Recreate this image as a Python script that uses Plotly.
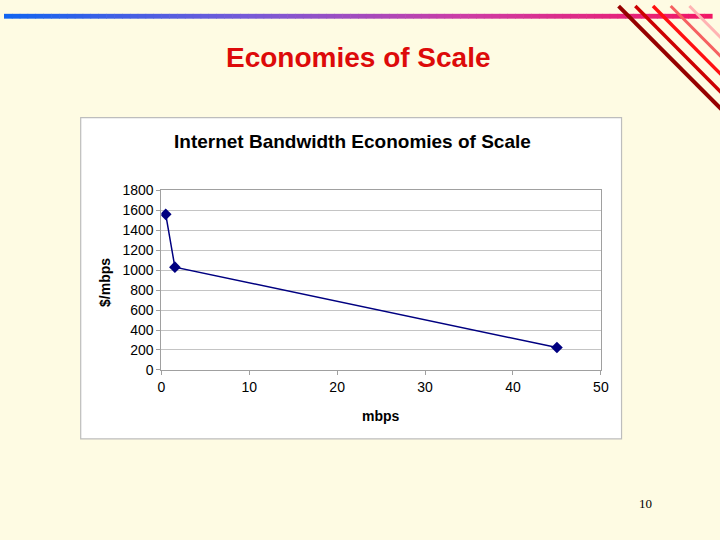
import plotly.graph_objects as go

# Data: bandwidth (mbps) vs price per mbps
mbps = [0.5, 1.544, 45]
cost_per_mbps = [1560, 1030, 225]

x_ticks = [0, 10, 20, 30, 40, 50]
y_ticks = [0, 200, 400, 600, 800, 1000, 1200, 1400, 1600, 1800]

W, H = 720, 540
cream = "#FEFBE3"


def px(x):
    return x / W


def py(y):
    return 1 - y / H


fig = go.Figure()

fig.add_trace(go.Scatter(
    x=mbps, y=cost_per_mbps, mode="lines+markers",
    line=dict(color="#000080", width=1.5),
    marker=dict(symbol="diamond", size=9, color="#000080"),
    showlegend=False, hoverinfo="skip",
))

shapes = []

# white chart box
shapes.append(dict(type="rect", xref="paper", yref="paper", layer="below",
                   x0=px(78), x1=px(628), y0=py(444), y1=py(113),
                   fillcolor="white", line=dict(color="#BDBDBD", width=1.2)))

# gradient bar across the top of the slide
stops = [(0.0, (16, 100, 240)), (0.35, (120, 90, 215)),
         (0.65, (205, 60, 165)), (1.0, (242, 22, 100))]


def grad(t):
    for (t0, c0), (t1, c1) in zip(stops[:-1], stops[1:]):
        if t <= t1:
            f = (t - t0) / (t1 - t0)
            return "rgb(%d,%d,%d)" % tuple(round(a + (b - a) * f) for a, b in zip(c0, c1))
    return "rgb(%d,%d,%d)" % stops[-1][1]


n = 90
for i in range(n):
    x0 = W * i / n
    x1 = W * (i + 1) / n + 0.6
    shapes.append(dict(type="rect", xref="paper", yref="paper",
                       x0=px(x0), x1=px(x1), y0=py(11), y1=py(6),
                       fillcolor=grad((i + 0.5) / n), line=dict(width=0)))

# diagonal stripes in the top right corner
stripes = [(697, "#FFB3B3", 3), (678, "#F56060", 3), (660, "#FF1010", 3.5),
           (642, "#CC0000", 3.5), (625, "#960000", 4)]
for x_start, col, w in stripes:
    shapes.append(dict(type="line", xref="paper", yref="paper",
                       x0=px(x_start), y0=py(-2), x1=px(x_start + 110), y1=py(110),
                       line=dict(color=col, width=w)))


def label(text, x, y, size, **kw):
    return dict(text=text, xref="paper", yref="paper", x=px(x), y=py(y),
                xanchor="center", yanchor="middle", showarrow=False,
                font=dict(size=size, **kw.pop("font", {})), **kw)


fig.update_layout(
    width=W, height=H,
    margin=dict(l=0, r=0, t=0, b=0),
    paper_bgcolor=cream,
    plot_bgcolor="white",
    font=dict(family="Liberation Sans, Arial", color="black", size=14),
    shapes=shapes,
    xaxis=dict(domain=[px(160), px(607)], range=[0, 50], tickvals=x_ticks,
               showgrid=False, zeroline=False, showline=True, linecolor="#A0A0A0",
               linewidth=1, mirror=True, ticks="outside", ticklen=4,
               tickcolor="#A0A0A0", tickfont=dict(size=14)),
    yaxis=dict(domain=[py(373), py(188)], range=[0, 1800], tickvals=y_ticks,
               showgrid=True, gridcolor="#C4C4C4", gridwidth=1, zeroline=False,
               showline=True, linecolor="#A0A0A0", linewidth=1, mirror=True,
               ticks="outside", ticklen=4, tickcolor="#A0A0A0",
               tickfont=dict(size=14)),
    annotations=[
        label("<b>Economies of Scale</b>", 360, 51, 28,
              font=dict(color="#DD0A0A")),
        label("<b>Internet Bandwidth Economies of Scale</b>", 354, 138, 19),
        label("<b>mbps</b>", 383, 420, 14),
        label("<b>$/mbps</b>", 102, 283, 14, textangle=-90),
        label("10", 652, 511, 13,
              font=dict(family="Liberation Serif, Times New Roman")),
    ],
)

fig.write_html("out.html", config={"displayModeBar": False},
               post_script="document.body.style.margin='0';"
                           "document.body.style.overflow='hidden';")
